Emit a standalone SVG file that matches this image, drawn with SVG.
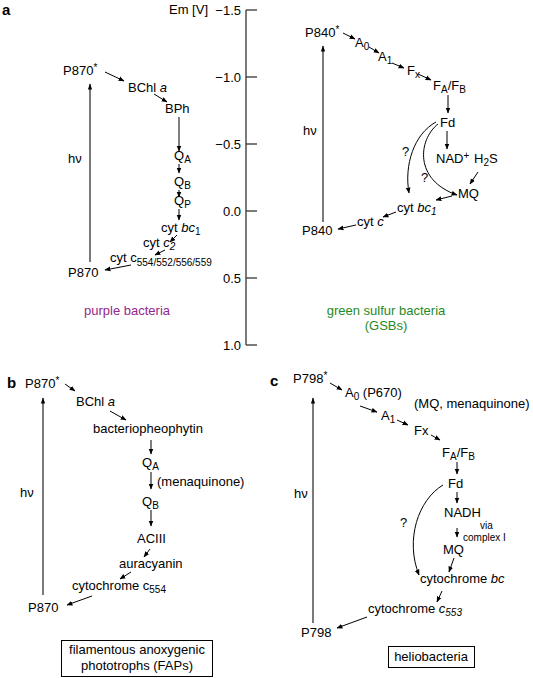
<svg xmlns="http://www.w3.org/2000/svg" width="533" height="678" viewBox="0 0 533 678">
<defs>
<marker id="ah" viewBox="0 0 10 10" refX="9" refY="5" markerWidth="6" markerHeight="6" markerUnits="userSpaceOnUse" orient="auto"><path d="M0,1 L10,5 L0,9 z" fill="#000"/></marker>
<marker id="hv" viewBox="0 0 10 10" refX="9" refY="5" markerWidth="7" markerHeight="6" markerUnits="userSpaceOnUse" orient="auto"><path d="M0,1.5 L10,5 L0,8.5 z" fill="#000"/></marker>
</defs>
<style>
text{font-family:"Liberation Sans",Arial,sans-serif;font-size:13px;fill:#000}
.lbl{font-weight:bold;font-size:15px}
.sub{font-size:10px}
.sm{font-size:10px}
.it{font-style:italic}
.tick{font-size:13px;text-anchor:end}
.c line,.c path{stroke:#000;stroke-width:1;fill:none;marker-end:url(#ah)}
.hvl{stroke:#7a7a7a;stroke-width:2;fill:none;marker-end:url(#hv)}
.axis line{stroke:#333;stroke-width:1.3}
.box{fill:none;stroke:#000;stroke-width:1}
</style>

<!-- Panel labels -->
<text class="lbl" x="2" y="15">a</text>
<text class="lbl" x="7" y="388">b</text>
<text class="lbl" x="270" y="386">c</text>

<!-- Axis -->
<g id="axis" class="axis">
<text x="169" y="14">Em [V]</text>
<line x1="246" y1="10" x2="246" y2="345"/>
<line x1="246" y1="10" x2="257" y2="10"/>
<line x1="246" y1="77" x2="257" y2="77"/>
<line x1="246" y1="144" x2="257" y2="144"/>
<line x1="246" y1="211" x2="257" y2="211"/>
<line x1="246" y1="278" x2="257" y2="278"/>
<line x1="246" y1="345" x2="257" y2="345"/>
<text class="tick" x="241" y="15">−1.5</text>
<text class="tick" x="241" y="82">−1.0</text>
<text class="tick" x="241" y="149">−0.5</text>
<text class="tick" x="241" y="216">0.0</text>
<text class="tick" x="241" y="283">0.5</text>
<text class="tick" x="241" y="350">1.0</text>
</g>

<!-- Panel a: purple bacteria -->
<g id="a-P870star"><text x="63" y="75">P870<tspan class="sub" dy="-4">*</tspan></text></g>
<g id="a-BChl"><text x="128" y="92">BChl <tspan class="it">a</tspan></text></g>
<g id="a-BPh"><text x="165" y="113">BPh</text></g>
<g id="a-QA"><text x="174" y="160">Q<tspan class="sub" dy="3">A</tspan></text></g>
<g id="a-QB"><text x="174" y="186">Q<tspan class="sub" dy="3">B</tspan></text></g>
<g id="a-QP"><text x="174" y="205">Q<tspan class="sub" dy="3">P</tspan></text></g>
<g id="a-bc1"><text x="161" y="232">cyt <tspan class="it">bc</tspan><tspan class="sub" dy="3">1</tspan></text></g>
<g id="a-c2"><text x="143" y="247">cyt <tspan class="it">c</tspan><tspan class="sub it" dy="3">2</tspan></text></g>
<g id="a-c554"><text x="110" y="262">cyt c<tspan class="sub" dy="4">554/552/556/559</tspan></text></g>
<g id="a-P870"><text x="68" y="277">P870</text></g>
<g id="a-hv"><text x="68" y="163">hν</text></g>
<text x="127" y="315" text-anchor="middle" style="fill:#93278f">purple bacteria</text>

<!-- Panel a: green sulfur bacteria -->
<g id="g-P840star"><text x="305" y="37">P840<tspan class="sub" dy="-4">*</tspan></text></g>
<g id="g-A0"><text x="355" y="47">A<tspan class="sub" dy="3">0</tspan></text></g>
<g id="g-A1"><text x="378" y="61">A<tspan class="sub" dy="3">1</tspan></text></g>
<g id="g-Fx"><text x="407" y="75">F<tspan class="sub" dy="3">x</tspan></text></g>
<g id="g-FAFB"><text x="433" y="90">F<tspan class="sub" dy="3">A</tspan><tspan dy="-3">/F</tspan><tspan class="sub" dy="3">B</tspan></text></g>
<g id="g-Fd"><text x="440" y="127">Fd</text></g>
<g id="g-NAD"><text x="436" y="163">NAD<tspan class="sub" dy="-4">+</tspan></text></g>
<g id="g-H2S"><text x="474" y="163">H<tspan class="sub" dy="3">2</tspan><tspan dy="-3">S</tspan></text></g>
<g id="g-MQ"><text x="458" y="198">MQ</text></g>
<g id="g-bc1"><text x="397" y="212">cyt <tspan class="it">bc</tspan><tspan class="sub it" dy="3">1</tspan></text></g>
<g id="g-c"><text x="357" y="226">cyt <tspan class="it">c</tspan></text></g>
<g id="g-P840"><text x="302" y="235">P840</text></g>
<g id="g-hv"><text x="303" y="135">hν</text></g>
<text x="402" y="156">?</text>
<text x="421" y="182">?</text>
<text x="386" y="315" text-anchor="middle" style="fill:#1f8a24">green sulfur bacteria</text>
<text x="386" y="330" text-anchor="middle" style="fill:#1f8a24">(GSBs)</text>

<!-- Panel b -->
<g id="b-P870star"><text x="25" y="388">P870<tspan class="sub" dy="-4">*</tspan></text></g>
<g id="b-BChl"><text x="76" y="406">BChl <tspan class="it">a</tspan></text></g>
<g id="b-bph"><text x="93" y="433">bacteriopheophytin</text></g>
<g id="b-QA"><text x="142" y="467">Q<tspan class="sub" dy="3">A</tspan></text></g>
<g id="b-mena"><text x="157" y="486">(menaquinone)</text></g>
<g id="b-QB"><text x="142" y="506">Q<tspan class="sub" dy="3">B</tspan></text></g>
<g id="b-ACIII"><text x="137" y="543">ACIII</text></g>
<g id="b-aura"><text x="119" y="568">auracyanin</text></g>
<g id="b-c554"><text x="72" y="590">cytochrome c<tspan class="sub" dy="3">554</tspan></text></g>
<g id="b-P870"><text x="28" y="612">P870</text></g>
<g id="b-hv"><text x="20" y="497">hν</text></g>
<g id="b-box">
<rect class="box" x="61.5" y="640.5" width="151" height="36"/>
<text x="137" y="654" text-anchor="middle">filamentous anoxygenic</text>
<text x="137" y="670" text-anchor="middle">phototrophs (FAPs)</text>
</g>

<!-- Panel c -->
<g id="c-P798star"><text x="293" y="383">P798<tspan class="sub" dy="-4">*</tspan></text></g>
<g id="c-A0"><text x="345" y="397">A<tspan class="sub" dy="3">0</tspan><tspan dy="-3"> (P670)</tspan></text></g>
<g id="c-MQnote"><text x="414" y="408">(MQ, menaquinone)</text></g>
<g id="c-A1"><text x="381" y="420">A<tspan class="sub" dy="3">1</tspan></text></g>
<g id="c-Fx"><text x="414" y="435">Fx</text></g>
<g id="c-FAFB"><text x="442" y="457">F<tspan class="sub" dy="3">A</tspan><tspan dy="-3">/F</tspan><tspan class="sub" dy="3">B</tspan></text></g>
<g id="c-Fd"><text x="448" y="488">Fd</text></g>
<g id="c-NADH"><text x="444" y="517">NADH</text></g>
<g id="c-via"><text class="sm" x="480" y="529">via</text><text class="sm" x="463" y="541">complex I</text></g>
<g id="c-MQ"><text x="443" y="554">MQ</text></g>
<g id="c-bc"><text x="420" y="583">cytochrome <tspan class="it">bc</tspan></text></g>
<g id="c-c553"><text x="368" y="613">cytochrome <tspan class="it">c</tspan><tspan class="sub it" dy="3">553</tspan></text></g>
<g id="c-P798"><text x="301" y="637">P798</text></g>
<g id="c-hv"><text x="294" y="498">hν</text></g>
<text x="400" y="527">?</text>
<g id="c-box">
<rect class="box" x="388.5" y="646.5" width="86" height="21"/>
<text x="431" y="661" text-anchor="middle">heliobacteria</text>
</g>

<!-- Connectors -->
<g id="connectors">
<path class="hvl" d="M90,262 V84"/>
<path class="hvl" d="M323,222 V46"/>
<path class="hvl" d="M43,595 V398"/>
<path class="hvl" d="M313,623 V398"/>
<g class="c">
<!-- a purple -->
<line x1="105" y1="72" x2="124" y2="81"/>
<line x1="154" y1="94" x2="167" y2="102"/>
<line x1="179" y1="117" x2="179" y2="151"/>
<line x1="179" y1="164" x2="179" y2="173"/>
<line x1="179" y1="190" x2="179" y2="197"/>
<line x1="179" y1="209" x2="179" y2="220"/>
<line x1="177" y1="235" x2="170" y2="242"/>
<line x1="165" y1="250" x2="155" y2="255"/>
<line x1="131" y1="265" x2="105" y2="270"/>
<!-- a green -->
<line x1="343" y1="33" x2="355" y2="39"/>
<line x1="369" y1="47" x2="379" y2="53"/>
<line x1="392" y1="63" x2="404" y2="68"/>
<line x1="418" y1="74" x2="431" y2="80"/>
<line x1="448" y1="95" x2="448" y2="113"/>
<line x1="447" y1="131" x2="447" y2="149"/>
<line x1="478" y1="172" x2="470" y2="184"/>
<path d="M438,124 C418,140 414,180 457,195"/>
<path d="M436,122 C414,134 404,165 409,193"/>
<line x1="452" y1="196" x2="436" y2="200"/>
<line x1="396" y1="212" x2="383" y2="217"/>
<line x1="356" y1="225" x2="338" y2="229"/>
<!-- b -->
<line x1="65" y1="384" x2="75" y2="391"/>
<line x1="110" y1="411" x2="126" y2="420"/>
<line x1="151" y1="440" x2="151" y2="454"/>
<line x1="151" y1="472" x2="151" y2="489"/>
<line x1="151" y1="510" x2="151" y2="526"/>
<line x1="150" y1="549" x2="144" y2="557"/>
<line x1="131" y1="572" x2="120" y2="579"/>
<line x1="92" y1="596" x2="67" y2="605"/>
<!-- c -->
<line x1="330" y1="383" x2="342" y2="390"/>
<line x1="360" y1="406" x2="377" y2="412"/>
<line x1="397" y1="420" x2="408" y2="425"/>
<line x1="431" y1="435" x2="440" y2="440"/>
<line x1="457" y1="462" x2="457" y2="474"/>
<line x1="457" y1="492" x2="457" y2="503"/>
<line x1="457" y1="528" x2="457" y2="537"/>
<line x1="454" y1="558" x2="449" y2="572"/>
<path d="M443,485 C418,500 405,540 419,575"/>
<line x1="442" y1="591" x2="437" y2="602"/>
<line x1="367" y1="617" x2="337" y2="628"/>
</g>
</g>
</svg>
